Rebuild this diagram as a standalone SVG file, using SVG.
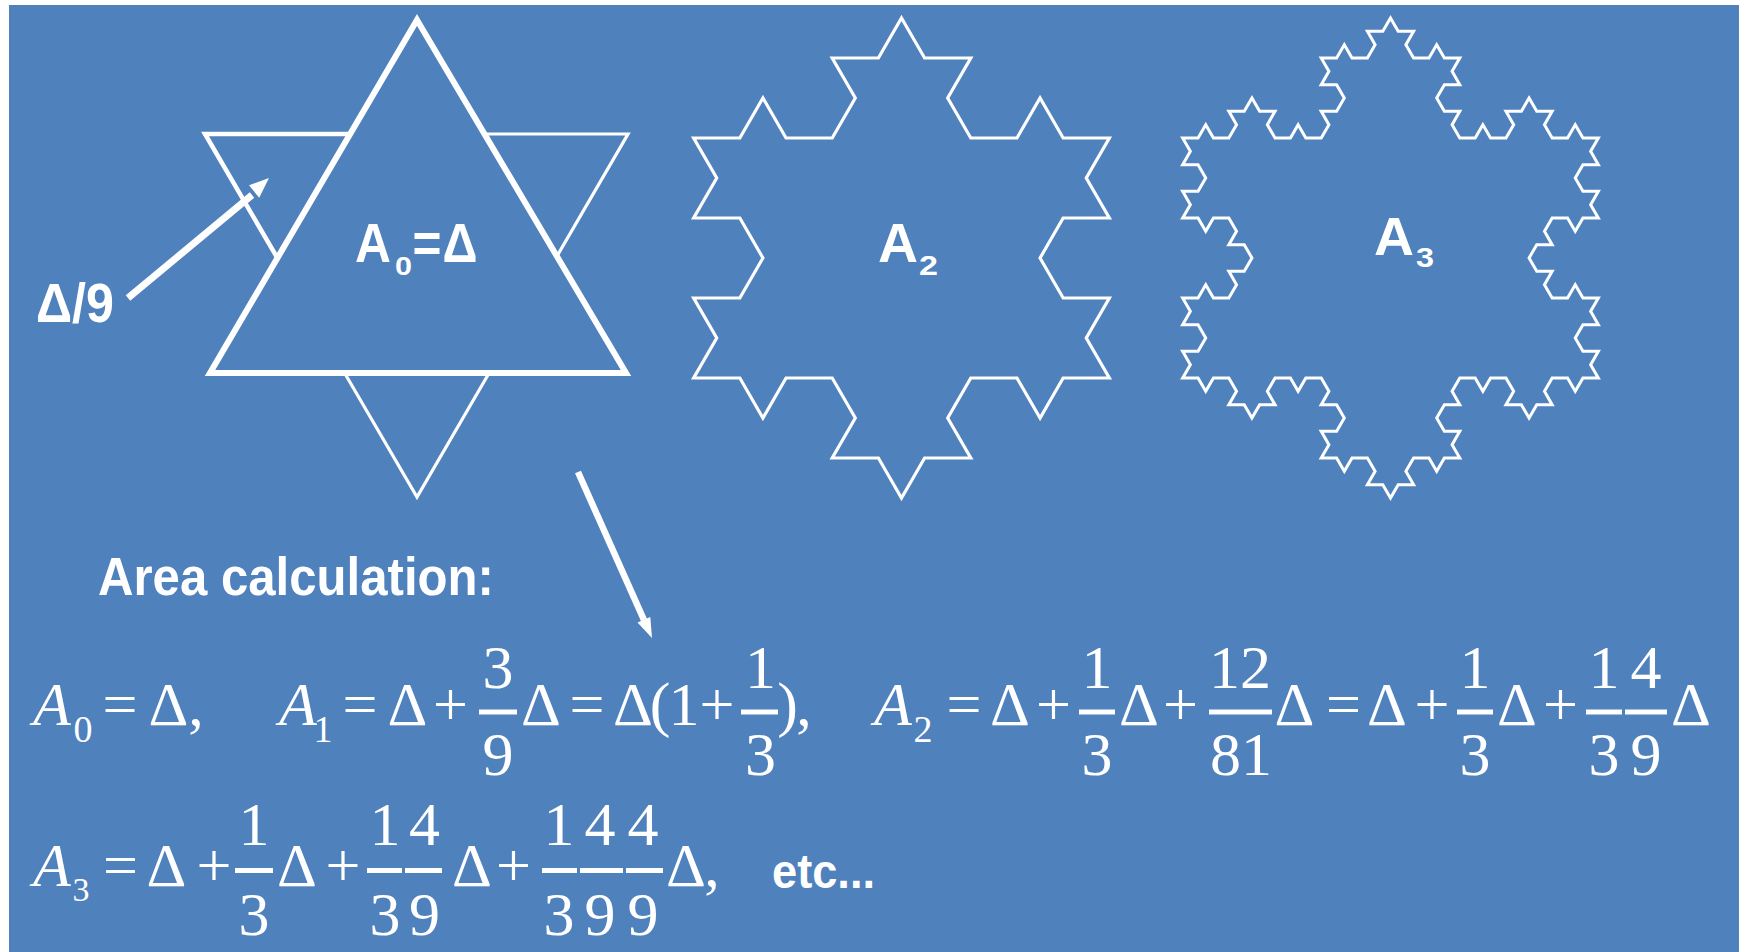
<svg xmlns="http://www.w3.org/2000/svg" width="1739" height="952" viewBox="0 0 1739 952">
<style>
.ln{fill:none;stroke:#fff;stroke-linejoin:miter}
.lbl{font-family:"Liberation Sans",Arial,sans-serif;font-weight:bold;fill:#fff}
.m{font-family:"Liberation Serif","Times New Roman",serif;font-size:62px;fill:#fff;text-anchor:middle}
.it{font-style:italic}
.m.sub{font-size:38px}
.m.sub2{font-size:34px}
.bar{fill:#fff}
.arr{stroke:#fff;fill:none}
</style>
<rect x="0" y="0" width="1739" height="952" fill="#ffffff"/>
<rect x="9" y="5" width="1730" height="947" fill="#4F81BD"/>

<g id="star-a0">
<polygon class="ln" stroke-width="6" points="417,20 626,373 210,373"/>
<polyline class="ln" stroke-width="4.5" points="350.2,134 205,134 277.4,258"/>
<polyline class="ln" stroke-width="3.2" points="484.5,134 628,134 556.9,256.3"/>
<polyline class="ln" stroke-width="3.2" points="344.6,373 417,497 489.1,373"/>
<text class="lbl" x="355" y="262" font-size="56" textLength="36" lengthAdjust="spacingAndGlyphs">A</text>
<text class="lbl" x="395" y="275" font-size="26" textLength="17" lengthAdjust="spacingAndGlyphs">0</text>
<text class="lbl" x="412.5" y="262" font-size="56" textLength="29" lengthAdjust="spacingAndGlyphs">=</text>
<text class="lbl" x="442.5" y="262" font-size="56" textLength="35" lengthAdjust="spacingAndGlyphs">Δ</text>
</g>

<g id="label-delta9">
<text class="lbl" x="36" y="322" font-size="56" textLength="78" lengthAdjust="spacingAndGlyphs">Δ/9</text>
</g>

<g id="koch-a2">
<path class="ln" stroke-width="3.2" d="M901.5 18l23.094 40h46.188l-23.094 40l23.094 40h46.188l23.094-40l23.094 40h46.188l-23.094 40l23.094 40h-46.188l-23.094 40l23.094 40h46.188l-23.094 40l23.094 40h-46.188l-23.094 40l-23.094-40h-46.188l-23.094 40l23.094 40h-46.188l-23.094 40l-23.094-40h-46.188l23.094-40l-23.094-40h-46.188l-23.094 40l-23.094-40h-46.188l23.094-40l-23.094-40h46.188l23.094-40l-23.094-40h-46.188l23.094-40l-23.094-40h46.188l23.094-40l23.094 40h46.188l23.094-40l-23.094-40h46.188l23.094-40z"/>
<text class="lbl" x="878" y="262" font-size="56" textLength="40" lengthAdjust="spacingAndGlyphs">A</text>
<text class="lbl" x="919" y="275" font-size="27" textLength="19" lengthAdjust="spacingAndGlyphs">2</text>
</g>

<g id="koch-a3">
<path class="ln" stroke-width="3" d="M1390.5 18
l7.698 13.333h15.396l-7.698 13.333l7.698 13.333
h15.396l7.698-13.333l7.698 13.333h15.396
l-7.698 13.333l7.698 13.333h-15.396l-7.698 13.333
l7.698 13.333h15.396l-7.698 13.333l7.698 13.333
h15.396l7.698-13.333l7.698 13.333h15.396
l7.698-13.333l-7.698-13.333h15.396l7.698-13.333
l7.698 13.333h15.396l-7.698 13.333l7.698 13.333
h15.396l7.698-13.333l7.698 13.333h15.396
l-7.698 13.333l7.698 13.333h-15.396l-7.698 13.333
l7.698 13.333h15.396l-7.698 13.333l7.698 13.333
h-15.396l-7.698 13.333l-7.698-13.333h-15.396
l-7.698 13.333l7.698 13.333h-15.396l-7.698 13.333
l7.698 13.333h15.396l-7.698 13.333l7.698 13.333
h15.396l7.698-13.333l7.698 13.333h15.396
l-7.698 13.333l7.698 13.333h-15.396l-7.698 13.333
l7.698 13.333h15.396l-7.698 13.333l7.698 13.333
h-15.396l-7.698 13.333l-7.698-13.333h-15.396
l-7.698 13.333l7.698 13.333h-15.396l-7.698 13.333
l-7.698-13.333h-15.396l7.698-13.333l-7.698-13.333
h-15.396l-7.698 13.333l-7.698-13.333h-15.396
l-7.698 13.333l7.698 13.333h-15.396l-7.698 13.333
l7.698 13.333h15.396l-7.698 13.333l7.698 13.333
h-15.396l-7.698 13.333l-7.698-13.333h-15.396
l-7.698 13.333l7.698 13.333h-15.396l-7.698 13.333
l-7.698-13.333h-15.396l7.698-13.333l-7.698-13.333
h-15.396l-7.698 13.333l-7.698-13.333h-15.396
l7.698-13.333l-7.698-13.333h15.396l7.698-13.333
l-7.698-13.333h-15.396l7.698-13.333l-7.698-13.333
h-15.396l-7.698 13.333l-7.698-13.333h-15.396
l-7.698 13.333l7.698 13.333h-15.396l-7.698 13.333
l-7.698-13.333h-15.396l7.698-13.333l-7.698-13.333
h-15.396l-7.698 13.333l-7.698-13.333h-15.396
l7.698-13.333l-7.698-13.333h15.396l7.698-13.333
l-7.698-13.333h-15.396l7.698-13.333l-7.698-13.333
h15.396l7.698-13.333l7.698 13.333h15.396
l7.698-13.333l-7.698-13.333h15.396l7.698-13.333
l-7.698-13.333h-15.396l7.698-13.333l-7.698-13.333
h-15.396l-7.698 13.333l-7.698-13.333h-15.396
l7.698-13.333l-7.698-13.333h15.396l7.698-13.333
l-7.698-13.333h-15.396l7.698-13.333l-7.698-13.333
h15.396l7.698-13.333l7.698 13.333h15.396
l7.698-13.333l-7.698-13.333h15.396l7.698-13.333
l7.698 13.333h15.396l-7.698 13.333l7.698 13.333
h15.396l7.698-13.333l7.698 13.333h15.396
l7.698-13.333l-7.698-13.333h15.396l7.698-13.333
l-7.698-13.333h-15.396l7.698-13.333l-7.698-13.333
h15.396l7.698-13.333l7.698 13.333h15.396
l7.698-13.333l-7.698-13.333h15.396l7.698-13.333z"/>
<text class="lbl" x="1374" y="255" font-size="54" textLength="40" lengthAdjust="spacingAndGlyphs">A</text>
<text class="lbl" x="1416" y="267" font-size="27" textLength="18" lengthAdjust="spacingAndGlyphs">3</text>
</g>

<g id="connectors">
<line class="arr" stroke-width="7" x1="128" y1="298" x2="252" y2="195"/>
<polygon fill="#fff" points="269,178 249,185.3 259.2,197.7"/>
<line class="arr" stroke-width="6.5" x1="578" y1="472" x2="644" y2="620"/>
<polygon fill="#fff" points="652,638 650.3,616.9 637.5,622.5"/>
</g>

<g id="heading">
<text class="lbl" x="98" y="595" font-size="53" textLength="396" lengthAdjust="spacingAndGlyphs">Area calculation:</text>
</g>

<g id="formula-row1">
<text class="m it" x="52" y="725">A</text>
<text class="m sub" x="83" y="742">0</text>
<text class="m" x="120" y="725">=</text>
<text class="m" x="168.5" y="725">Δ</text>
<text class="m" x="196" y="725">,</text>

<text class="m it" x="298" y="725">A</text>
<text class="m sub" x="323" y="742">1</text>
<text class="m" x="360" y="725">=</text>
<text class="m" x="407.5" y="725">Δ</text>
<text class="m" x="450.5" y="725">+</text>
<text class="m" x="498" y="688">3</text>
<rect class="bar" x="479" y="709.5" width="38" height="5"/>
<text class="m" x="498" y="775">9</text>
<text class="m" x="541" y="725">Δ</text>
<text class="m" x="587" y="725">=</text>
<text class="m" x="633" y="725">Δ</text>
<text class="m" x="660" y="725">(</text>
<text class="m" x="684" y="725">1</text>
<text class="m" x="717" y="725">+</text>
<text class="m" x="760.5" y="688">1</text>
<rect class="bar" x="741" y="709.5" width="37" height="5"/>
<text class="m" x="760.5" y="775">3</text>
<text class="m" x="787.5" y="725">)</text>
<text class="m" x="804" y="725">,</text>

<text class="m it" x="893" y="725">A</text>
<text class="m sub" x="923" y="742">2</text>
<text class="m" x="964" y="725">=</text>
<text class="m" x="1010" y="725">Δ</text>
<text class="m" x="1053.5" y="725">+</text>
<text class="m" x="1097" y="688">1</text>
<rect class="bar" x="1079" y="709.5" width="36" height="5"/>
<text class="m" x="1097" y="775">3</text>
<text class="m" x="1139" y="725">Δ</text>
<text class="m" x="1180.5" y="725">+</text>
<text class="m" x="1240" y="688">12</text>
<rect class="bar" x="1209" y="709.5" width="63" height="5"/>
<text class="m" x="1241" y="775">81</text>
<text class="m" x="1294.5" y="725">Δ</text>
<text class="m" x="1343.5" y="725">=</text>
<text class="m" x="1387" y="725">Δ</text>
<text class="m" x="1432" y="725">+</text>
<text class="m" x="1475" y="688">1</text>
<rect class="bar" x="1457" y="709.5" width="36" height="5"/>
<text class="m" x="1475" y="775">3</text>
<text class="m" x="1517" y="725">Δ</text>
<text class="m" x="1560.5" y="725">+</text>
<text class="m" x="1604" y="688">1</text>
<rect class="bar" x="1586" y="709.5" width="36" height="5"/>
<text class="m" x="1604" y="775">3</text>
<text class="m" x="1646" y="688">4</text>
<rect class="bar" x="1625" y="709.5" width="42" height="5"/>
<text class="m" x="1646" y="775">9</text>
<text class="m" x="1691" y="725">Δ</text>
</g>

<g id="formula-row2">
<text class="m it" x="52" y="886">A</text>
<text class="m sub2" x="81" y="901">3</text>
<text class="m" x="120.5" y="886">=</text>
<text class="m" x="166.5" y="886">Δ</text>
<text class="m" x="214" y="886">+</text>
<text class="m" x="254" y="845">1</text>
<rect class="bar" x="235" y="868" width="38" height="5"/>
<text class="m" x="254" y="935">3</text>
<text class="m" x="297" y="886">Δ</text>
<text class="m" x="343" y="886">+</text>
<text class="m" x="385" y="845">1</text>
<rect class="bar" x="367" y="868" width="35" height="5"/>
<text class="m" x="385" y="935">3</text>
<text class="m" x="424.5" y="845">4</text>
<rect class="bar" x="405" y="868" width="37" height="5"/>
<text class="m" x="424.5" y="935">9</text>
<text class="m" x="472" y="886">Δ</text>
<text class="m" x="513.5" y="886">+</text>
<text class="m" x="559" y="845">1</text>
<rect class="bar" x="542" y="868" width="35" height="5"/>
<text class="m" x="559" y="935">3</text>
<text class="m" x="600" y="845">4</text>
<rect class="bar" x="580" y="868" width="43" height="5"/>
<text class="m" x="600" y="935">9</text>
<text class="m" x="643" y="845">4</text>
<rect class="bar" x="626" y="868" width="37" height="5"/>
<text class="m" x="643" y="935">9</text>
<text class="m" x="686" y="886">Δ</text>
<text class="m" x="712" y="886">,</text>
<text class="lbl" x="772" y="888" font-size="48" textLength="103" lengthAdjust="spacingAndGlyphs">etc...</text>
</g>
</svg>
